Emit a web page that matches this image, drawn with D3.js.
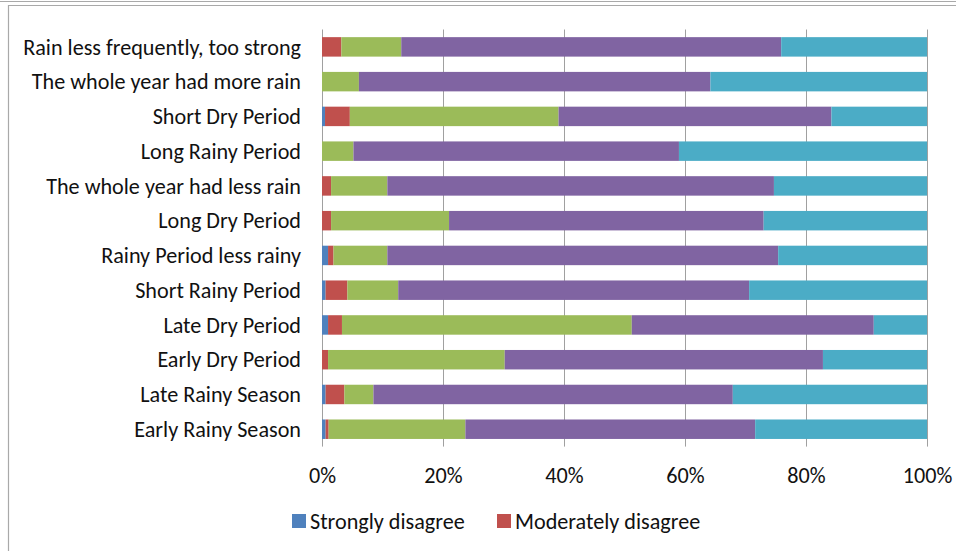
<!DOCTYPE html>
<html>
<head>
<meta charset="utf-8">
<script src="https://cdn.jsdelivr.net/npm/d3@7"></script>
<style>
  html, body { margin: 0; padding: 0; background: #fff; }
  svg { display: block; }
  text { font-family: Carlito, Calibri, Lato, "Open Sans", sans-serif; fill: #111; }
</style>
</head>
<body>
<svg id="chart" width="956" height="551"></svg>
<script>
// Survey statements, top to bottom
const categories = [
  "Rain less frequently, too strong",
  "The whole year had more rain",
  "Short Dry Period",
  "Long Rainy Period",
  "The whole year had less rain",
  "Long Dry Period",
  "Rainy Period less rainy",
  "Short Rainy Period",
  "Late Dry Period",
  "Early Dry Period",
  "Late Rainy Season",
  "Early Rainy Season"
];

// Share of answers (%) per statement, one array per response level
const stronglyDisagree   = [0,   0,    0.5, 0,    0,    0,    1.0, 0.6, 1.0,  0,    0.6, 0.6];
const moderatelyDisagree = [3.2, 0,    4.1, 0,    1.5,  1.5,  0.9, 3.6, 2.3,  1.0,  3.1, 0.5];
const neutral            = [9.9, 6.1, 34.5, 5.2,  9.3, 19.5,  8.9, 8.4, 47.9, 29.2, 4.8, 22.6];
const moderatelyAgree    = [62.8, 58.1, 45.1, 53.8, 63.9, 52.0, 64.6, 58.0, 40.0, 52.6, 59.4, 47.9];
const stronglyAgree      = [24.1, 35.8, 15.8, 41.0, 25.3, 27.0, 24.6, 29.4, 8.8, 17.2, 32.1, 28.4];

const seriesNames = ["Strongly disagree", "Moderately disagree", "Neutral", "Moderately agree", "Strongly agree"];
const seriesColors = ["#4F81BD", "#C0504D", "#9BBB59", "#8064A2", "#4BACC6"];
const tickValues = [0, 20, 40, 60, 80, 100];
const legendNames = ["Strongly disagree", "Moderately disagree"];

const rows = categories.map((c, i) => ({
  category: c,
  "Strongly disagree": stronglyDisagree[i],
  "Moderately disagree": moderatelyDisagree[i],
  "Neutral": neutral[i],
  "Moderately agree": moderatelyAgree[i],
  "Strongly agree": stronglyAgree[i]
}));

const svg = d3.select("#chart");

// Frame lines around the chart area
const frame = svg.append("g").attr("stroke", "#a9a9a9").attr("stroke-width", 1.2).attr("fill", "none");
frame.append("line").attr("x1", 0).attr("x2", 956).attr("y1", 1.5).attr("y2", 1.5);
frame.append("path").attr("d", "M8.5,551 V5.5 H956");

const plotTop = 29.5, plotBottom = 446.6;

const x = d3.scaleLinear().domain([0, 100]).range([322, 927]);
const y = d3.scaleBand().domain(categories).range([plotTop, plotBottom])
  .paddingInner(0.44).paddingOuter(0.22);

// Vertical gridlines (0% doubles as the axis line)
svg.append("g")
  .selectAll("line")
  .data(tickValues)
  .join("line")
  .attr("x1", d => Math.round(x(d)) + 0.5)
  .attr("x2", d => Math.round(x(d)) + 0.5)
  .attr("y1", plotTop)
  .attr("y2", plotBottom)
  .attr("stroke", "#a0a0a0")
  .attr("stroke-width", 1);

// Stacked 100% bars
const stack = d3.stack().keys(seriesNames);
const layers = stack(rows);

svg.append("g")
  .selectAll("g")
  .data(layers)
  .join("g")
  .attr("fill", (d, i) => seriesColors[i])
  .selectAll("rect")
  .data(d => d)
  .join("rect")
  .attr("x", d => x(d[0]))
  .attr("width", d => Math.max(0, x(d[1]) - x(d[0])))
  .attr("y", d => y(d.data.category))
  .attr("height", y.bandwidth());

// Category labels
const catLabels = svg.append("g")
  .selectAll("text")
  .data(categories)
  .join("text")
  .attr("x", 301)
  .attr("y", d => y(d) + y.bandwidth() / 2)
  .attr("dy", "0.35em")
  .attr("text-anchor", "end")
  .attr("font-size", 20)
  .text(d => d);

// Size the text so the longest label spans the label column
let fontSize = 20;
const longest = catLabels.filter((d, i) => i === 0).node().getComputedTextLength();
if (longest > 0) fontSize = 20 * 278 / longest;
catLabels.attr("font-size", fontSize);

// Bottom value axis labels
const axis = d3.axisBottom(x)
  .tickValues(tickValues)
  .tickFormat(d => d + "%")
  .tickSize(0)
  .tickPadding(0);

const axisG = svg.append("g")
  .attr("transform", "translate(0,483)")
  .call(axis);
axisG.select(".domain").remove();
axisG.selectAll("text")
  .attr("font-size", fontSize)
  .attr("font-family", null)
  .attr("fill", "#111")
  .attr("y", 0)
  .attr("dy", 0);

// Legend
const legendX = [292, 497];
const legend = svg.append("g")
  .selectAll("g")
  .data(legendNames)
  .join("g")
  .attr("transform", (d, i) => `translate(${legendX[i]},514)`);
legend.append("rect")
  .attr("width", 14)
  .attr("height", 14)
  .attr("fill", (d, i) => seriesColors[i]);
legend.append("text")
  .attr("x", 18)
  .attr("y", 7)
  .attr("dy", "0.35em")
  .attr("font-size", fontSize)
  .text(d => d);
</script>
</body>
</html>
